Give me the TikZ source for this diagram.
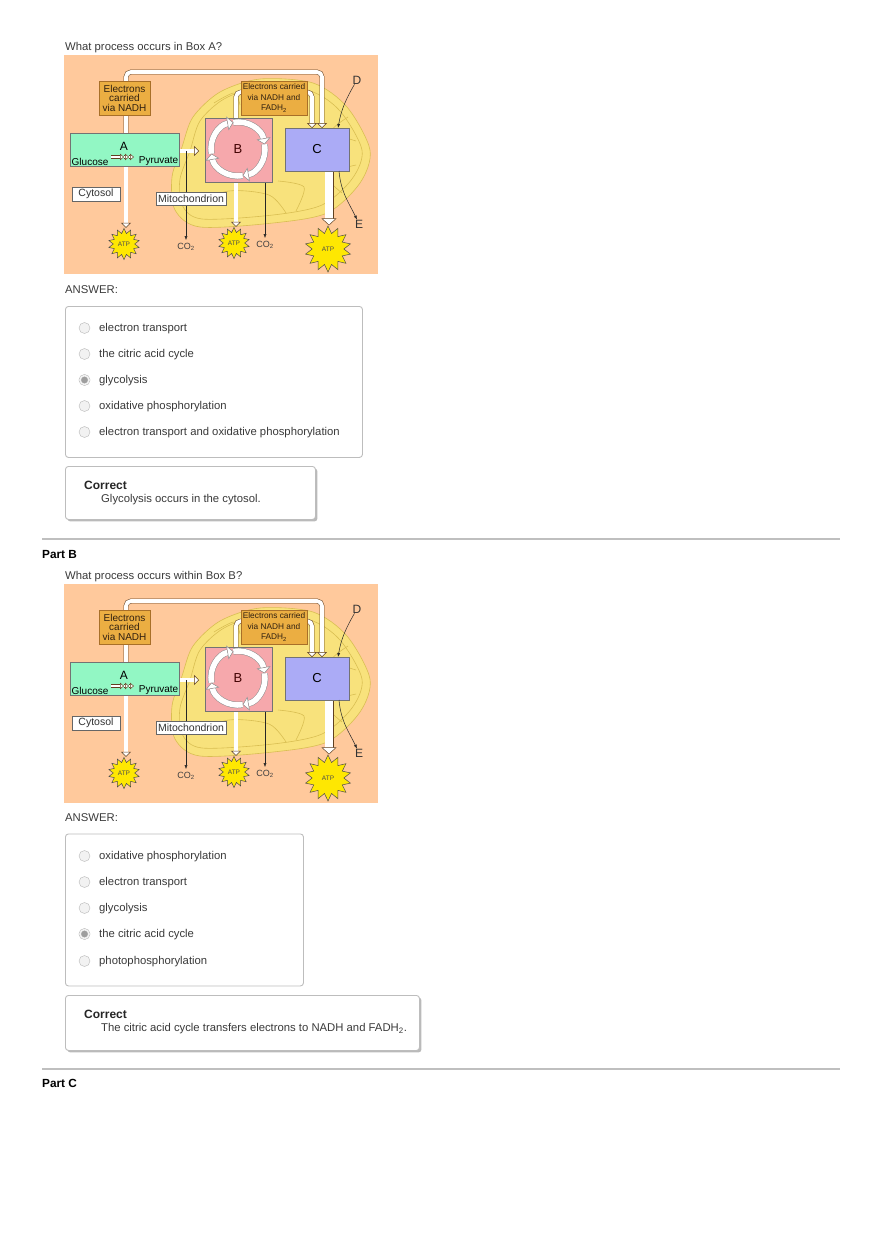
\documentclass[tikz,border=0pt]{standalone}
\usepackage{fontspec}
\setmainfont{Liberation Sans}
\usepackage{tikz}
\usetikzlibrary{positioning,arrows.meta,shapes.geometric,shadows}

\definecolor{peach}{HTML}{FFC99C}
\definecolor{mitofill}{HTML}{F8E27C}
\definecolor{mitoline}{HTML}{D9BE52}
\definecolor{cargofill}{HTML}{EBAE42}
\definecolor{cargoline}{HTML}{A86F28}
\definecolor{boxafill}{HTML}{92F7C4}
\definecolor{boxbfill}{HTML}{F6A8AC}
\definecolor{boxcfill}{HTML}{ABABF6}
\definecolor{pagetext}{HTML}{3A3A3A}
\definecolor{panelline}{HTML}{BDBDBD}

\pgfdeclarelayer{backdrop}
\pgfdeclarelayer{pipes}
\pgfsetlayers{backdrop,pipes,main}

\tikzset{
  pagetxt/.style={anchor=west,inner sep=0pt,yshift=-1pt,text=pagetext,font=\fontsize{11.3}{13}\selectfont},
  parthead/.style={anchor=west,inner sep=0pt,yshift=-1pt,font=\fontsize{11.8}{13}\selectfont\bfseries},
  radio/.style={circle,draw=black!28,fill=black!5,minimum size=11pt,inner sep=0pt,on grid},
  picked/.style={radio,draw=black!32,fill=black!38,double=black!5,double distance=1.6pt,minimum size=9pt},
  panel/.style={anchor=north west,draw=panelline,line width=.9pt,fill=white,rounded corners=3pt},
  verdict/.style={panel,copy shadow={shadow xshift=2pt,shadow yshift=-2pt,draw=none,fill=black!27}},
  rulebar/.style={draw=black!25,line width=1.2pt},
  cargo/.style={draw=cargoline,line width=.7pt,fill=cargofill,align=center,inner sep=0pt,text=black!75!brown},
  proc/.style={draw=black!55,line width=.5pt,inner sep=0pt},
  tagbox/.style={draw=black!60,line width=.5pt,fill=white,inner sep=0pt,text=black!80,font=\fontsize{10.5}{12}\selectfont},
  pipe/.style={draw=black!50!brown,double=white,line width=.5pt,double distance=3.8pt,rounded corners=5pt,
    -{Triangle[length=5pt,width=10pt,fill=white]}},
  widepipe/.style={pipe,double distance=8pt,-{Triangle[length=7pt,width=15pt,fill=white]}},
  ringpipe/.style={pipe,draw=black!45,double distance=5.5pt,-{Triangle[length=6pt,width=14pt,fill=white]}},
  chevpipe/.style={pipe,double distance=2.5pt,-{Triangle[length=4pt,width=6.5pt,fill=white]}},
  thinarrow/.style={draw=black!85,line width=.5pt,-{Latex[length=4pt,width=3pt]}},
  atpstar/.style={star,star points=14,star point ratio=1.45,draw=black!70,line width=.5pt,fill=yellow!90!orange,
    inner sep=0pt,text=black!70,font=\fontsize{6.5}{7}\selectfont},
  colabel/.style={inner sep=0pt,text=black!75,font=\fontsize{9}{10}\selectfont},
  bigletter/.style={inner sep=0pt,text=black!80,font=\fontsize{12}{13}\selectfont},
  cellfigure/.pic={
    \begin{pgfonlayer}{backdrop}
      \fill[peach] (0,0) rectangle (314,219);
      \draw[mitoline,fill=mitofill,line width=.6pt] plot[smooth cycle] coordinates {
        (156,37) (196,24) (249,28) (283,52) (306,95) (296,128) (263,158)
        (209,168) (136,172) (111,155) (108,122) (118,92) (129,62)};
      \draw[mitoline,line width=.6pt] plot[smooth cycle] coordinates {
        (160,44) (196,32) (246,36) (276,56) (298,95) (288,124) (258,150)
        (209,160) (138,164) (118,150) (116,124) (126,96) (136,66)};
      \draw[mitoline,line width=.6pt] plot[smooth] coordinates {(284,62) (268,76) (292,86)};
      \draw[mitoline,line width=.6pt] plot[smooth] coordinates {(292,110) (262,120) (278,138)};
      \draw[mitoline,line width=.6pt] plot[smooth] coordinates {(124,150) (165,136) (205,140) (222,158)};
      \draw[mitoline,line width=.6pt] plot[smooth] coordinates {(214,126) (240,132) (232,156)};
      \draw[mitoline,line width=.6pt] plot[smooth] coordinates {(150,48) (170,38) (176,50)};
    \end{pgfonlayer}
    % boxes
    \node[cargo,minimum width=51pt,minimum height=34pt,font=\fontsize{10}{9.5}\selectfont] (nadh) at (60.5,43)
      {Electrons\\carried\\via NADH};
    \node[cargo,minimum width=66pt,minimum height=34pt,font=\fontsize{8.3}{10.5}\selectfont] (carrier) at (210,43)
      {Electrons carried\\via NADH and\\FADH\textsubscript{2}};
    \node[proc,fill=boxafill,minimum width=109pt,minimum height=33pt,below=18pt of nadh] (boxa) {};
    \node[proc,fill=boxbfill,minimum width=67pt,minimum height=64pt] (boxb) at (174.5,95) {};
    \node[proc,fill=boxcfill,minimum width=64pt,minimum height=43pt] (boxc) at (253,94.5)
      {\fontsize{13}{14}\selectfont C};
    \node[inner sep=0pt,text=black!75!red,font=\fontsize{13}{14}\selectfont] (letterb) at (174,94) {B};
    \node[inner sep=0pt,font=\fontsize{12}{13}\selectfont] (lettera) at (60,91) {A};
    \node[inner sep=0pt,anchor=west,font=\fontsize{10}{11}\selectfont] (glucose) at (7.5,106.5) {Glucose};
    \node[inner sep=0pt,anchor=east,font=\fontsize{10}{11}\selectfont] (pyruvate) at (114.5,106.5) {Pyruvate};
    \node[tagbox,minimum width=48pt,minimum height=14pt] (cytosol) at (32,139) {Cytosol};
    \node[tagbox,minimum width=70pt,minimum height=13pt] (mito) at (127,143.5) {Mitochondrion};
    \node[atpstar,minimum size=31pt] (atpa) at (60,189) {ATP};
    \node[atpstar,minimum size=31pt] (atpb) at (170,188) {ATP};
    \node[atpstar,minimum size=46pt] (atpc) at (264,194) {ATP};
    \node[colabel] (coa) at (122,192) {CO\textsubscript{2}};
    \node[colabel] (cob) at (201,190) {CO\textsubscript{2}};
    \node[bigletter] (markd) at (293,25) {D};
    \node[bigletter] (marke) at (295,169) {E};
    % bends and free ends
    \coordinate (riser) at (62,60);
    \coordinate (toprun) at (150,17);
    \coordinate (intake) at (258,73);
    \coordinate (recycle) at (248,73);
    \coordinate (bout) at (172,127);
    \coordinate (coroot) at (122,96);
    \coordinate (aout) at (115,96);
    \coordinate (ain) at (135,96);
    \coordinate (cout) at (265,116);
    \coordinate (eroot) at (275,116);
    \coordinate (dhit) at (274,73);
    \coordinate (sideb) at (172,37);
    \coordinate (sidec) at (243,37);
    \begin{pgfonlayer}{pipes}
      \draw[pipe] (riser |- boxa.north) |- (toprun) -| (intake);
      \draw[pipe] (riser |- boxa.south) -- (riser |- atpa.north);
      \draw[pipe,-] (bout |- boxb.north) -- (sideb) -- (carrier.west |- sideb);
      \draw[pipe] (sidec) -| (recycle);
      \draw[pipe] (aout) -- (ain);
      \draw[pipe] (bout) -- (bout |- atpb.north);
      \draw[widepipe] (cout) -- (cout |- atpc.north);
      \draw[thinarrow,shorten >=3pt] (coroot) -- (coa);
      \draw[thinarrow,shorten >=3pt] (boxb.south -| cob) -- (cob);
    \end{pgfonlayer}
    % arrows on top of the boxes
    \coordinate (ringcentre) at (174,94);
    \draw[ringpipe] ([shift={(100:27pt)}]ringcentre) arc[start angle=100,end angle=10,radius=27pt];
    \draw[ringpipe] ([shift={(10:27pt)}]ringcentre) arc[start angle=10,end angle=-80,radius=27pt];
    \draw[ringpipe] ([shift={(-80:27pt)}]ringcentre) arc[start angle=-80,end angle=-170,radius=27pt];
    \draw[ringpipe] ([shift={(-170:27pt)}]ringcentre) arc[start angle=190,end angle=100,radius=27pt];
    \coordinate (chevstart) at (47,102);
    \coordinate (chevmid) at (60,102);
    \coordinate (chevnext) at (65,102);
    \coordinate (chevend) at (70,102);
    \draw[chevpipe] (chevstart) -- (chevmid);
    \draw[chevpipe] (chevmid) -- (chevnext);
    \draw[chevpipe] (chevnext) -- (chevend);
    \draw[thinarrow] (markd) to[out=-120,in=80] (dhit);
    \draw[thinarrow] (eroot) to[out=-85,in=115] (marke);
  },
}

\begin{document}
\begin{tikzpicture}[x=1pt,y=-1pt]
  \useasboundingbox (0,0) rectangle (880,1247);

  % first question
  \node[pagetxt] (questa) at (65,47) {What process occurs in Box A?};
  \pic (figa-) at (64,55) {cellfigure};
  \node[pagetxt] (answa) at (65,289) {ANSWER:};
  \node[panel,minimum width=297pt,minimum height=151pt] (panela) at (65,306) {};
  \node[radio] (raa) at (84.5,328) {};
  \node[radio,below=26pt of raa] (rab) {};
  \node[picked,below=26pt of rab] (rac) {};
  \node[radio,below=26pt of rac] (rad) {};
  \node[radio,below=26pt of rad] (rae) {};
  \node[pagetxt] (laa) at (99,328) {electron transport};
  \node[pagetxt] (lab) at (99,354) {the citric acid cycle};
  \node[pagetxt] (lac) at (99,380) {glycolysis};
  \node[pagetxt] (lad) at (99,406) {oxidative phosphorylation};
  \node[pagetxt] (lae) at (99,432) {electron transport and oxidative phosphorylation};
  \node[verdict,minimum width=250pt,minimum height=53pt] (verdicta) at (65,466) {};
  \node[parthead,text=black!85,font=\fontsize{12}{13}\selectfont\bfseries] (correcta) at (84,484) {Correct};
  \node[pagetxt] (whya) at (101,499) {Glycolysis occurs in the cytosol.};

  \coordinate (rulea) at (42,539);
  \coordinate (ruleb) at (840,539);
  \draw[rulebar] (rulea) -- (ruleb);

  % second question
  \node[parthead] (partb) at (42,553) {Part B};
  \node[pagetxt] (questb) at (65,576) {What process occurs within Box B?};
  \pic (figb-) at (64,584) {cellfigure};
  \node[pagetxt] (answb) at (65,817) {ANSWER:};
  \node[panel,minimum width=238pt,minimum height=152pt] (panelb) at (65,833.5) {};
  \node[radio] (rba) at (84.5,856) {};
  \node[radio,below=26pt of rba] (rbb) {};
  \node[radio,below=26pt of rbb] (rbc) {};
  \node[picked,below=26pt of rbc] (rbd) {};
  \node[radio,below=27pt of rbd] (rbe) {};
  \node[pagetxt] (lba) at (99,856) {oxidative phosphorylation};
  \node[pagetxt] (lbb) at (99,882) {electron transport};
  \node[pagetxt] (lbc) at (99,908) {glycolysis};
  \node[pagetxt] (lbd) at (99,934) {the citric acid cycle};
  \node[pagetxt] (lbe) at (99,961) {photophosphorylation};
  \node[verdict,minimum width=354pt,minimum height=55pt] (verdictb) at (65,995) {};
  \node[parthead,text=black!85,font=\fontsize{12}{13}\selectfont\bfseries] (correctb) at (84,1013) {Correct};
  \node[pagetxt] (whyb) at (101,1028) {The citric acid cycle transfers electrons to NADH and FADH\textsubscript{2}.};

  \coordinate (rulec) at (42,1069);
  \coordinate (ruled) at (840,1069);
  \draw[rulebar] (rulec) -- (ruled);
  \node[parthead] (partc) at (42,1082) {Part C};
\end{tikzpicture}
\end{document}
